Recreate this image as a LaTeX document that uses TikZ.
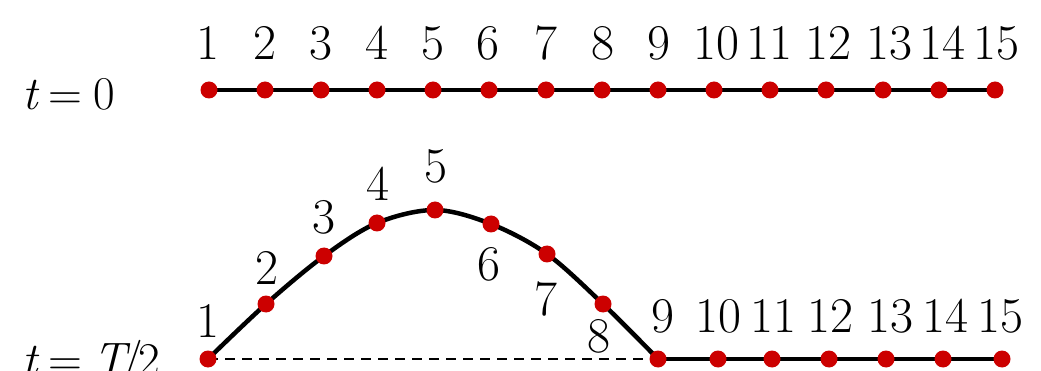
\documentclass[tikz,border=0pt]{standalone}
\usepackage{fontspec}
\definecolor{dotred}{RGB}{204,0,0}
\begin{document}
\begin{tikzpicture}[x=1pt,y=-1pt,
  dot/.style={circle,fill=dotred,inner sep=0pt,minimum size=17pt},
  num/.style={anchor=base,inner sep=0pt,font=\fontsize{50}{54}\selectfont},
  lbl/.style={anchor=base west,inner sep=0pt,font=\fontsize{47}{50}\selectfont},
  stringline/.style={line width=4.5pt,black},
  restline/.style={line width=2pt,black,dash pattern=on 10pt off 7pt}]
\useasboundingbox (0,0) rectangle (1041,371);
\clip (0,0) rectangle (1041,371);
% top row coordinates
\foreach \i/\x in {1/209,2/265,3/321,4/377,5/433,6/489,7/546,8/602,9/658,10/714,11/770,12/826,13/883,14/939,15/995}
  \coordinate (a\i) at (\x,90);
% bottom row coordinates
\foreach \i/\x/\y in {1/208/359,2/266/304,3/324/256,4/377/223,5/435/210,6/491/224,7/547/254,8/603/304,9/658/359,10/718/359,11/772/359,12/829/359,13/886/359,14/943/359,15/1002/359}
  \coordinate (b\i) at (\x,\y);
% labels
\node[lbl] (t0) at (22,110) {{\itshape t}\hspace{0.24em}=\hspace{0.24em}0};
\node[lbl] (t1) at (22,375) {{\itshape t}\hspace{0.24em}=\hspace{0.24em}{\itshape T}\kern-0.12em/\kern-0.08em2};
\foreach \i/\x in {1/208,2/265,3/321,4/377,5/433,6/488,7/546,8/603,9/659,10/716,11/769,12/828,13/889,14/942,15/996}
  \node[num] (ta\i) at (\x,60) {\i};
\foreach \i/\x/\y in {1/208/337,2/267/284,3/324/234,4/378/201,5/436/183,6/489/280,7/546/315,8/599/352,9/663/332,10/718/332,11/773/332,12/830/332,13/890/332,14/945/332,15/1000/332}
  \node[num] (tb\i) at (\x,\y) {\i};
% lines
\draw[stringline] (a1) -- (a15);
\draw[restline] (b1) -- (b9);
\draw[stringline,line join=round] plot[smooth,tension=0.55] coordinates {(b1) (b2) (b3) (b4) (b5) (b6) (b7) (b8) (b9)};
\draw[stringline] (b9) -- (b15);
% dots
\foreach \i in {1,...,15} {
  \node[dot] (da\i) at (a\i) {};
  \node[dot] (db\i) at (b\i) {};
}
\end{tikzpicture}
\end{document}
